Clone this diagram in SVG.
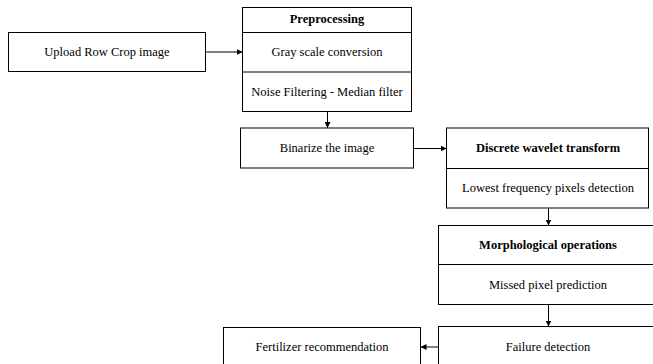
<svg xmlns="http://www.w3.org/2000/svg" width="653" height="364" viewBox="0 0 653 364">
<style>
rect{fill:#fff;stroke:#000;stroke-width:1}
.d{stroke:#000;stroke-width:1}
text{font-family:'Liberation Serif','Times New Roman','DejaVu Serif',serif;font-size:12.5px;fill:#000;text-anchor:middle}
.b{font-weight:bold}
.c line{stroke:#000;stroke-width:1}
</style>
<defs>
<marker id="ah" viewBox="0 0 6 6" refX="6" refY="3" markerWidth="6" markerHeight="6" orient="auto" markerUnits="userSpaceOnUse">
<path d="M0,0 L6,3 L0,6 z" fill="#000"/>
</marker>
</defs>
<rect width="653" height="364" style="stroke:none"/>
<g id="upload"><rect x="8.5" y="32.5" width="197" height="39"/><text x="107" y="56">Upload Row Crop image</text></g>
<g id="preprocessing"><rect x="242.5" y="7.5" width="169" height="104"/>
<line class="d" x1="242.5" y1="32.5" x2="411.5" y2="32.5"/>
<line class="d" x1="242.5" y1="72" x2="411.5" y2="72"/>
<text class="b" x="327" y="23">Preprocessing</text>
<text x="327" y="56">Gray scale conversion</text>
<text x="327" y="96">Noise Filtering - Median filter</text></g>
<g id="binarize"><rect x="240.5" y="128" width="173" height="40"/><text x="327" y="152">Binarize the image</text></g>
<g id="dwt"><rect x="446.5" y="128" width="202" height="80"/>
<line class="d" x1="446.5" y1="168.5" x2="648.5" y2="168.5"/>
<text class="b" x="548" y="152">Discrete wavelet transform</text>
<text x="548" y="192">Lowest frequency pixels detection</text></g>
<g id="morph"><rect x="438.5" y="225.5" width="216" height="79"/>
<line class="d" x1="438.5" y1="264.5" x2="654" y2="264.5"/>
<text class="b" x="548" y="249">Morphological operations</text>
<text x="548" y="289">Missed pixel prediction</text></g>
<g id="failure"><rect x="438.5" y="326.5" width="216" height="50"/><text x="548" y="351">Failure detection</text></g>
<g id="fertilizer"><rect x="223.5" y="327.5" width="197" height="50"/><text x="322" y="351">Fertilizer recommendation</text></g>
<g class="c" id="connectors">
<line x1="205.5" y1="52" x2="242.5" y2="52" marker-end="url(#ah)"/>
<line x1="327.5" y1="111.5" x2="327.5" y2="128" marker-end="url(#ah)"/>
<line x1="413.5" y1="148.5" x2="446.5" y2="148.5" marker-end="url(#ah)"/>
<line x1="548.5" y1="208" x2="548.5" y2="225.5" marker-end="url(#ah)"/>
<line x1="548.5" y1="304.5" x2="548.5" y2="326.5" marker-end="url(#ah)"/>
<line x1="438.5" y1="347" x2="420.5" y2="347" marker-end="url(#ah)"/>
</g>
</svg>
